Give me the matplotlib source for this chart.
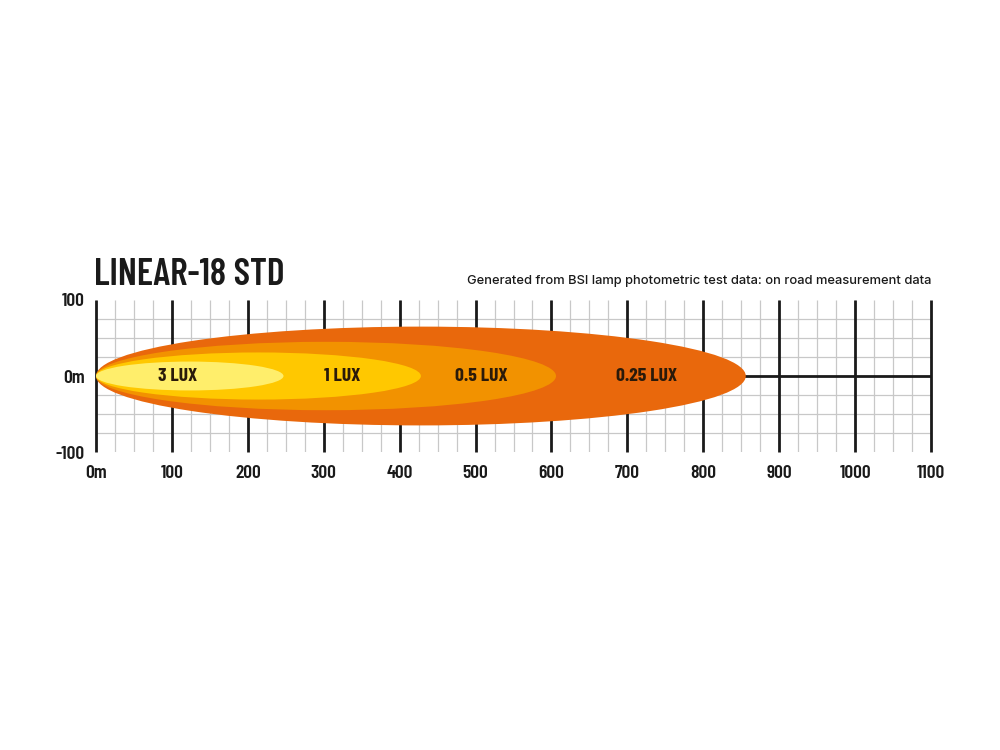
import numpy as np
import matplotlib.pyplot as plt
from matplotlib.patches import Ellipse

# Datos del haz (lux, alcance en m, semi-ancho en m)
lux_labels = ['0.25 LUX', '0.5 LUX', '1 LUX', '3 LUX']
reach_m = [856, 606, 428, 247]
half_width_m = [65, 45, 31, 19]
label_x = [725, 508, 324, 108]
beam_colors = ['#E9680C', '#F29200', '#FFC800', '#FFEE6B']

x_major = np.arange(0, 1101, 100)
x_minor = np.arange(0, 1101, 25)
y_minor = [-75, -50, -25, 25, 50, 75]
y_ticks = [-100, 0, 100]
x_tick_labels = ['0m'] + [str(v) for v in x_major[1:]]
y_tick_labels = ['-100', '0m', '100']

title = 'LINEAR-18 STD'
subtitle = 'Generated from BSI lamp photometric test data: on road measurement data'

cond = ['Barlow Condensed', 'Roboto Condensed', 'DejaVu Sans']

fig = plt.figure(figsize=(10, 7.5), dpi=100)
ax = fig.add_axes([0.096, 0.3973, 0.835, 0.2027])
ax.set_xlim(0, 1100)
ax.set_ylim(-100, 100)

# Rejilla
ax.vlines(x_minor, -100, 100, color='#c8c8c8', lw=0.9, zorder=1)
ax.hlines(y_minor, 0, 1100, color='#c8c8c8', lw=0.9, zorder=1)
ax.vlines(x_major, -100, 100, color='#1a1a1a', lw=2, zorder=2, clip_on=False)
ax.hlines([0], 0, 1100, color='#1a1a1a', lw=2, zorder=2)

# Haces
for L, h, c in zip(reach_m, half_width_m, beam_colors):
    ax.add_patch(Ellipse((L / 2, 0), L, 2 * h, facecolor=c, edgecolor='none', zorder=3))

for lab, lx in zip(lux_labels, label_x):
    ax.text(lx, 0, lab, ha='center', va='center', fontsize=14, fontweight=700,
            family=cond, color='#2a1a0a', zorder=4)

for s in ax.spines.values():
    s.set_visible(False)
ax.set_xticks(x_major)
ax.set_xticklabels(x_tick_labels)
ax.set_yticks(y_ticks)
ax.set_yticklabels(y_tick_labels)
ax.tick_params(length=0, labelsize=14)
ax.tick_params(axis='x', pad=9)
ax.tick_params(axis='y', pad=8)
for t in ax.get_xticklabels() + ax.get_yticklabels():
    t.set_fontweight(600)
    t.set_family(cond)
    t.set_color('#1a1a1a')

fig.text(0.094, 0.62, title, fontsize=27, fontweight=600, family=cond,
         color='#1a1a1a', ha='left', va='baseline')
fig.text(0.931, 0.621, subtitle, fontsize=9.3, fontweight=500, family=['Inter', 'DejaVu Sans'],
         color='#1a1a1a', ha='right', va='baseline')

fig.savefig('out.png', dpi=100, facecolor='white')
